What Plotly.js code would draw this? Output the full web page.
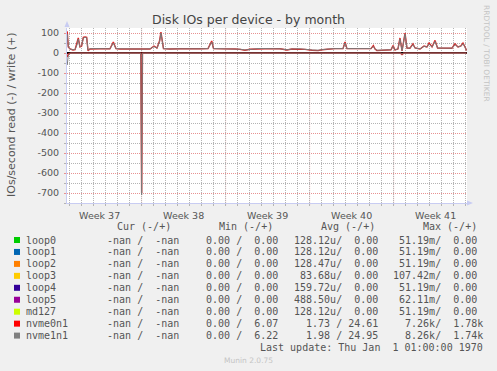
<!DOCTYPE html>
<html><head><meta charset="utf-8">
<script src="https://cdn.plot.ly/plotly-3.0.1.min.js"></script>
<style>html,body{margin:0;padding:0;background:#f0f0f0;}#chart{width:497px;height:371px;}</style>
</head><body><div id="chart"></div>
<script>
// ---- data ----
const weekLabels = ['Week 37', 'Week 38', 'Week 39', 'Week 40', 'Week 41'];
const weekMid = [2.72, 9.72, 16.72, 23.72, 30.72];     // days
const weekStart = [6.22, 13.22, 20.22, 27.22];         // days
const yTickVals = [-700, -600, -500, -400, -300, -200, -100, 0, 100];
const yTickText = ['-700', '-600', '-500', '-400', '-300', '-200', '-100', '0', '100'];

const writeDays = [0.02, 0.11, 0.25, 0.5, 0.67, 0.83, 0.94, 1.08, 1.22, 1.36, 1.5, 1.64, 1.75, 1.92, 2.33, 2.75, 3.17, 3.58, 3.86, 4.08, 4.42, 4.83, 5.25, 5.67, 6.08, 6.5, 6.92, 7.25, 7.5, 7.71, 7.83, 8.04, 8.58, 9.42, 10.25, 11.08, 11.75, 12.06, 12.21, 12.75, 13.42, 14, 14.42, 14.83, 15.25, 15.92, 16.5, 17.08, 17.75, 18.33, 18.75, 19.42, 19.83, 20.42, 20.92, 21.25, 21.75, 22.33, 23, 23.17, 23.33, 24, 24.83, 25.33, 25.53, 25.67, 25.83, 26.5, 27, 27.17, 27.33, 27.58, 27.75, 27.92, 28.17, 28.33, 28.58, 28.83, 29, 29.42, 29.75, 30, 30.17, 30.42, 30.67, 30.88, 31.5, 32.08, 32.33, 32.58, 32.83, 33, 33.17, 33.29];
const nvme0n1Write = [108, 30, 20, 15, 17, 45, 75, 30, 35, 78, 80, 78, 12, 20, 22, 21, 22, 21, 55, 22, 20, 20, 21, 20, 20, 20, 20, 35, 25, 60, 105, 22, 20, 21, 20, 21, 22, 60, 22, 22, 21, 20, 18, 14, 19, 21, 22, 22, 21, 15, 20, 20, 18, 14, 12, 16, 20, 22, 22, 55, 22, 22, 22, 22, 37, 20, 12, 15, 16, 37, 15, 20, 75, 10, 100, 25, 24, 46, 25, 20, 35, 30, 50, 30, 63, 25, 25, 24, 46, 30, 35, 50, 30, 13];
const nvme1n1Write = [95, 28, 20, 16, 18, 40, 70, 30, 38, 75, 78, 76, 14, 21, 22, 22, 22, 21, 50, 22, 21, 20, 21, 21, 20, 20, 21, 32, 24, 55, 100, 22, 20, 21, 20, 21, 22, 55, 22, 22, 21, 20, 19, 15, 19, 22, 22, 22, 21, 16, 20, 21, 18, 15, 14, 17, 20, 22, 22, 50, 22, 22, 22, 22, 33, 20, 14, 15, 16, 34, 15, 20, 70, 12, 95, 25, 24, 42, 25, 21, 33, 30, 45, 30, 58, 25, 25, 24, 42, 30, 34, 46, 30, 13];

const readDays = [0.02, 0.11, 0.3, 3, 6.15, 6.22, 6.29, 10, 15, 20, 25, 27.8, 27.92, 28.05, 30, 33.29];
const nvme0n1Read = [20, 5, 1, 1, 1, 700, 1, 1, 1, 1, 1, 1, 8, 1, 1, 1];
const nvme1n1Read = [60, 10, 1, 1, 1, 710, 1, 1, 1, 1, 1, 1, 6, 1, 1, 1];

const devices = ['loop0', 'loop1', 'loop2', 'loop3', 'loop4', 'loop5', 'md127', 'nvme0n1', 'nvme1n1'];
const deviceColors = ['#00CC00', '#0066B3', '#FF8000', '#FFCC00', '#330099', '#990099', '#CCFF00', '#FF0000', '#808080'];
const curText = ['  -nan /  -nan ', '  -nan /  -nan ', '  -nan /  -nan ', '  -nan /  -nan ', '  -nan /  -nan ', '  -nan /  -nan ', '  -nan /  -nan ', '  -nan /  -nan ', '  -nan /  -nan '];
const minText = ['  0.00 /  0.00 ', '  0.00 /  0.00 ', '  0.00 /  0.00 ', '  0.00 /  0.00 ', '  0.00 /  0.00 ', '  0.00 /  0.00 ', '  0.00 /  0.00 ', '  0.00 /  6.07 ', '  0.00 /  6.22 '];
const avgText = ['128.12u/  0.00 ', '128.12u/  0.00 ', '128.47u/  0.00 ', ' 83.68u/  0.00 ', '159.72u/  0.00 ', '488.50u/  0.00 ', '128.12u/  0.00 ', '  1.73 / 24.61 ', '  1.98 / 24.95 '];
const maxText = [' 51.19m/  0.00 ', ' 51.19m/  0.00 ', ' 51.19m/  0.00 ', '107.42m/  0.00 ', ' 51.19m/  0.00 ', ' 62.11m/  0.00 ', ' 51.19m/  0.00 ', '  7.26k/  1.78k', '  8.26k/  1.74k'];
const colHeaders = ['Cur (-/+)', 'Min (-/+)', 'Avg (-/+)', 'Max (-/+)'];

// ---- layout helpers ----
const L = 67, R = 467, T = 28, B = 203;
const px = p => (p - L) / (R - L);
const py = p => (B - p) / (B - T);
const nb = s => s.replace(/ /g, '\u00A0');
const MONO = 'DejaVu Sans Mono';
const SANS = 'DejaVu Sans';
const TXT = '#555555';

const neg = a => a.map(v => -v);
const traces = [
  {x: writeDays, y: nvme0n1Write, mode: 'lines', line: {color: '#E02020', width: 1.4}, hoverinfo: 'skip'},
  {x: readDays, y: neg(nvme0n1Read), mode: 'lines', line: {color: '#E02020', width: 1.4}, hoverinfo: 'skip'},
  {x: writeDays, y: nvme1n1Write, mode: 'lines', line: {color: '#7a7a7a', width: 1}, hoverinfo: 'skip'},
  {x: readDays, y: neg(nvme1n1Read), mode: 'lines', line: {color: '#7a7a7a', width: 1}, hoverinfo: 'skip'}
];

const annotations = [];
const shapes = [];
const MAJ = '#e89292';
const MIN = '#b4b4b4';
const AX = '#c8ccf2';
const DASH = '1px,1px';

weekStart.forEach(w => shapes.push({type: 'line', xref: 'x', yref: 'paper', x0: w, x1: w, y0: -0.013, y1: 1,
  line: {color: MAJ, width: 1, dash: DASH}, layer: 'below'}));

// axis arrows
shapes.push({type: 'path', xref: 'paper', yref: 'paper', fillcolor: AX, line: {width: 0},
  path: `M ${px(64.5)} ${py(27)} L ${px(67)} ${py(21)} L ${px(69.5)} ${py(27)} Z`});
shapes.push({type: 'path', xref: 'paper', yref: 'paper', fillcolor: AX, line: {width: 0},
  path: `M ${px(467)} ${py(200.5)} L ${px(473)} ${py(203)} L ${px(467)} ${py(205.5)} Z`});

// y title
annotations.push({xref: 'paper', yref: 'paper', x: px(11), y: py(115), xanchor: 'center', yanchor: 'middle',
  text: 'IOs/second read (-) / write (+)', textangle: -90, showarrow: false, font: {family: SANS, size: 11, color: TXT}});
// rrdtool credit
annotations.push({xref: 'paper', yref: 'paper', x: px(487), y: py(53), xanchor: 'center', yanchor: 'middle',
  text: 'RRDTOOL / TOBI OETIKER', textangle: 90, showarrow: false, font: {family: SANS, size: 7.5, color: '#c4c4c4'}});
// munin
annotations.push({xref: 'paper', yref: 'paper', x: px(248), y: py(360), xanchor: 'center', yanchor: 'middle',
  text: 'Munin 2.0.75', showarrow: false, font: {family: SANS, size: 7.5, color: '#c4c4c4'}});

// legend header
const headerX = [115.6, 217.6, 320, 422];
colHeaders.forEach((h, i) => annotations.push({xref: 'paper', yref: 'paper', x: px(headerX[i]), y: py(226.7),
  xanchor: 'left', yanchor: 'middle', text: nb(h), showarrow: false, borderpad: 0, font: {family: MONO, size: 10, color: TXT}}));

const colEnd = [186, 285.2, 384.5, 483.5];
const cols = [curText, minText, avgText, maxText];
devices.forEach((d, i) => {
  const yc = 240 + 11.95 * i;
  shapes.push({type: 'rect', xref: 'paper', yref: 'paper', x0: px(14), x1: px(20), y0: py(yc + 3), y1: py(yc - 3),
    fillcolor: deviceColors[i], line: {width: 0}});
  annotations.push({xref: 'paper', yref: 'paper', x: px(25), y: py(yc), xanchor: 'left', yanchor: 'middle',
    text: d, showarrow: false, borderpad: 0, font: {family: MONO, size: 10, color: TXT}});
  cols.forEach((c, j) => annotations.push({xref: 'paper', yref: 'paper', x: px(colEnd[j]), y: py(yc),
    xanchor: 'right', yanchor: 'middle', text: nb(c[i]), showarrow: false, borderpad: 0,
    font: {family: MONO, size: 10, color: TXT}}));
});
annotations.push({xref: 'paper', yref: 'paper', x: px(483.5), y: py(347.7), xanchor: 'right', yanchor: 'middle',
  text: nb('Last update: Thu Jan  1 01:00:00 1970'), showarrow: false, borderpad: 0, font: {family: MONO, size: 10, color: TXT}});

const layout = {
  width: 497, height: 371,
  margin: {l: L, r: 497 - R, t: T, b: 371 - B, pad: 0},
  paper_bgcolor: '#f0f0f0', plot_bgcolor: '#ffffff',
  showlegend: false,
  title: {text: 'Disk IOs per device - by month', x: 0.5, xanchor: 'center', y: 1 - 19.5 / 371, yanchor: 'middle',
    font: {family: SANS, size: 12.5, color: '#444444'}},
  xaxis: {range: [0, 33.333], tickmode: 'array', tickvals: weekMid, ticktext: weekLabels, showgrid: false,
    zeroline: false, showline: true, linecolor: AX, linewidth: 1, ticks: '', ticklabelstandoff: 4,
    tickfont: {family: SANS, size: 9.5, color: TXT},
    minor: {tick0: 0.22, dtick: 1, showgrid: true, gridcolor: MIN, griddash: DASH, gridwidth: 1,
      ticks: 'outside', ticklen: 2, tickcolor: MIN}},
  yaxis: {range: [-750, 125], tickmode: 'array', tickvals: yTickVals, ticktext: yTickText, showgrid: true,
    gridcolor: MAJ, griddash: DASH, gridwidth: 1, zeroline: true, zerolinecolor: '#000000', zerolinewidth: 1.6,
    showline: true, linecolor: AX, linewidth: 1, ticks: 'outside', ticklen: 2, tickcolor: MAJ,
    tickfont: {family: SANS, size: 9.5, color: TXT}, ticklabelstandoff: 3,
    minor: {tick0: 0, dtick: 50, showgrid: true, gridcolor: MIN, griddash: DASH, gridwidth: 1,
      ticks: 'outside', ticklen: 2, tickcolor: MIN}},
  shapes: shapes,
  annotations: annotations
};

Plotly.newPlot('chart', traces, layout, {displayModeBar: false, staticPlot: true});
</script></body></html>
